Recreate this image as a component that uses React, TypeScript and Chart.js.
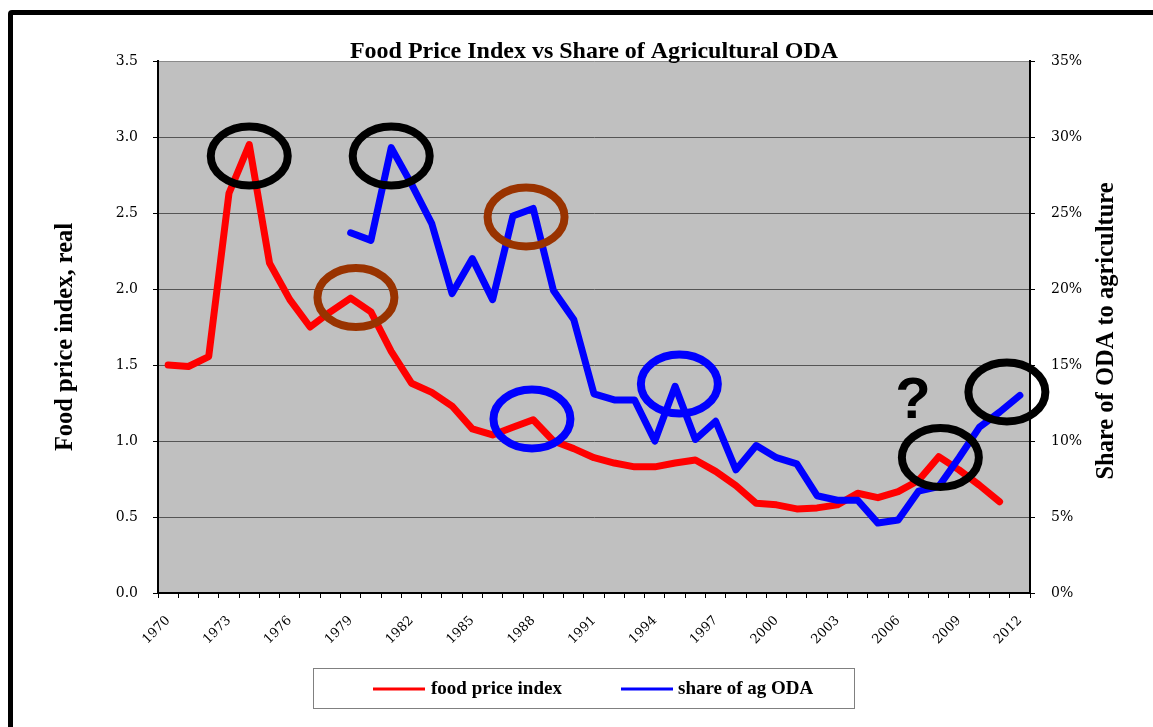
import React, { useEffect, useRef } from "react";
import { Chart, registerables } from "chart.js";

Chart.register(...registerables);

const years = [
  "1970", "1971", "1972", "1973", "1974", "1975", "1976", "1977", "1978", "1979",
  "1980", "1981", "1982", "1983", "1984", "1985", "1986", "1987", "1988", "1989",
  "1990", "1991", "1992", "1993", "1994", "1995", "1996", "1997", "1998", "1999",
  "2000", "2001", "2002", "2003", "2004", "2005", "2006", "2007", "2008", "2009",
  "2010", "2011", "2012",
];

const foodPriceIndex = [
  1.5, 1.49, 1.555, 2.63, 2.95, 2.17, 1.93, 1.75, 1.85, 1.94,
  1.85, 1.59, 1.38, 1.32, 1.23, 1.08, 1.04, 1.09, 1.14, 1.0,
  0.95, 0.89, 0.855, 0.83, 0.83, 0.855, 0.875, 0.8, 0.706, 0.59,
  0.58, 0.553, 0.56, 0.58, 0.656, 0.627, 0.667, 0.74, 0.897, 0.81,
  0.71, 0.6, null,
];

const shareAgODA = [
  null, null, null, null, null, null, null, null, null, 23.7,
  23.2, 29.3, 26.9, 24.3, 19.7, 22.0, 19.3, 24.8, 25.3, 19.9,
  18.0, 13.1, 12.7, 12.7, 10.0, 13.6, 10.1, 11.3, 8.1, 9.7,
  8.9, 8.5, 6.4, 6.1, 6.1, 4.6, 4.8, 6.7, 7.0, 8.9,
  10.9, 11.9, 13.0,
];

const leftTicks = [0, 0.5, 1.0, 1.5, 2.0, 2.5, 3.0, 3.5];
const rightTicks = [0, 5, 10, 15, 20, 25, 30, 35];

const titleText = "Food Price Index vs Share of Agricultural ODA";
const leftAxisTitle = "Food price index, real";
const rightAxisTitle = "Share of ODA to agriculture";
const seriesNames = ["food price index", "share of ag ODA"];

// annotation anchors in data units: [year, left-axis value, colour]
const circleYears = [1974.0, 1981.0, 1979.26, 1987.65, 1987.94, 1995.21, 2008.08, 2011.36];
const circleValues = [2.875, 2.875, 1.944, 2.474, 1.145, 1.375, 0.891, 1.322];
const circleColors = ["#000000", "#000000", "#993300", "#993300", "#0000ff", "#0000ff", "#000000", "#000000"];
const questionMark = { year: 2006.73, value: 1.151, text: "?" };

const RED = "#ff0000";
const BLUE = "#0000ff";
const SERIF = "'Liberation Serif', 'Times New Roman', serif";
const TICK_FONT = "'DejaVu Serif', serif";

const decorPlugin = {
  id: "decor",
  beforeDraw(chart: any) {
    const { ctx, chartArea } = chart;
    ctx.save();
    ctx.fillStyle = "#c0c0c0";
    ctx.fillRect(chartArea.left, chartArea.top, chartArea.right - chartArea.left, chartArea.bottom - chartArea.top);
    ctx.restore();
  },
  afterDatasetsDraw(chart: any) {
    const { ctx, scales } = chart;
    const x = scales.x;
    const y = scales.y;
    ctx.save();
    ctx.lineWidth = 8;
    for (let i = 0; i < circleYears.length; i++) {
      const cx = x.getPixelForValue(circleYears[i] - 1970);
      const cy = y.getPixelForValue(circleValues[i]);
      ctx.beginPath();
      ctx.ellipse(cx, cy, 38.5, 29.5, 0, 0, Math.PI * 2);
      ctx.strokeStyle = circleColors[i];
      ctx.stroke();
    }
    ctx.fillStyle = "#000";
    ctx.font = "bold 58px 'Liberation Sans', Arial, sans-serif";
    ctx.textAlign = "center";
    ctx.textBaseline = "alphabetic";
    ctx.fillText(
      questionMark.text,
      x.getPixelForValue(questionMark.year - 1970),
      y.getPixelForValue(questionMark.value)
    );
    ctx.restore();
  },
  afterDraw(chart: any) {
    const { ctx, chartArea } = chart;
    ctx.save();
    ctx.fillStyle = "#000";
    // title
    ctx.font = `bold 24px ${SERIF}`;
    ctx.textAlign = "center";
    ctx.textBaseline = "alphabetic";
    ctx.fillText(titleText, (chartArea.left + chartArea.right) / 2, 58);

    // axis titles
    ctx.font = `bold 24.5px ${SERIF}`;
    ctx.textBaseline = "middle";
    ctx.save();
    ctx.translate(66, 337);
    ctx.rotate(-Math.PI / 2);
    ctx.fillText(leftAxisTitle, 0, 0);
    ctx.restore();
    ctx.save();
    ctx.translate(1107, 331);
    ctx.rotate(-Math.PI / 2);
    ctx.fillText(rightAxisTitle, 0, 0);
    ctx.restore();

    // legend
    ctx.strokeStyle = "#808080";
    ctx.lineWidth = 1;
    ctx.strokeRect(313.5, 668.5, 541, 40);
    const ly = 689;
    ctx.lineWidth = 3;
    ctx.strokeStyle = RED;
    ctx.beginPath();
    ctx.moveTo(373, ly);
    ctx.lineTo(425, ly);
    ctx.stroke();
    ctx.strokeStyle = BLUE;
    ctx.beginPath();
    ctx.moveTo(621, ly);
    ctx.lineTo(673, ly);
    ctx.stroke();
    ctx.font = `bold 19px ${SERIF}`;
    ctx.textAlign = "left";
    ctx.textBaseline = "middle";
    ctx.fillText(seriesNames[0], 431, ly);
    ctx.fillText(seriesNames[1], 678, ly);
    ctx.restore();
  },
};

export default function App() {
  const canvasRef = useRef<HTMLCanvasElement | null>(null);

  useEffect(() => {
    const canvas = canvasRef.current;
    if (!canvas) return;
    const chart = new Chart(canvas, {
      type: "line",
      data: {
        labels: years,
        datasets: [
          {
            label: seriesNames[0],
            data: foodPriceIndex,
            yAxisID: "y",
            borderColor: RED,
            backgroundColor: RED,
            borderWidth: 7,
            pointRadius: 0,
            tension: 0,
            borderCapStyle: "round",
            borderJoinStyle: "round",
            order: 2,
          },
          {
            label: seriesNames[1],
            data: shareAgODA,
            yAxisID: "y1",
            borderColor: BLUE,
            backgroundColor: BLUE,
            borderWidth: 7,
            pointRadius: 0,
            tension: 0,
            borderCapStyle: "round",
            borderJoinStyle: "round",
            order: 1,
          },
        ],
      },
      options: {
        responsive: false,
        animation: false,
        events: [],
        layout: { padding: { top: 61, left: 0, right: 0, bottom: 0 } },
        plugins: {
          legend: { display: false },
          title: { display: false },
          tooltip: { enabled: false },
        },
        scales: {
          x: {
            type: "category",
            offset: true,
            grid: {
              offset: true,
              drawOnChartArea: false,
              drawTicks: true,
              tickLength: 5,
              color: "#000",
              tickColor: "#000",
            },
            border: { display: true, color: "#000", width: 2 },
            ticks: {
              autoSkip: false,
              maxRotation: 45,
              minRotation: 45,
              padding: 15,
              color: "#000",
              font: { family: TICK_FONT, size: 13 },
              callback: (_v: any, i: number) => (i % 3 === 0 ? years[i] : ""),
            },
            afterFit: (s: any) => {
              s.height = 134;
            },
          },
          y: {
            position: "left",
            min: leftTicks[0],
            max: leftTicks[leftTicks.length - 1],
            afterBuildTicks: (s: any) => {
              s.ticks = leftTicks.map((v) => ({ value: v }));
            },
            grid: {
              color: (c: any) => (c.tick && c.tick.value === 3.5 ? "#8a8a8a" : "#555555"),
              lineWidth: 1,
              tickLength: 5,
              tickColor: "#000",
            },
            border: { display: true, color: "#000", width: 2 },
            ticks: {
              padding: 15,
              color: "#000",
              font: { family: TICK_FONT, size: 14 },
              callback: (v: any) => Number(v).toFixed(1),
            },
            afterFit: (s: any) => {
              s.width = 158;
            },
          },
          y1: {
            position: "right",
            min: rightTicks[0],
            max: rightTicks[rightTicks.length - 1],
            afterBuildTicks: (s: any) => {
              s.ticks = rightTicks.map((v) => ({ value: v }));
            },
            grid: {
              drawOnChartArea: false,
              tickLength: 5,
              color: "#000",
              tickColor: "#000",
            },
            border: { display: true, color: "#000", width: 2 },
            ticks: {
              padding: 16,
              color: "#000",
              font: { family: TICK_FONT, size: 14 },
              callback: (v: any) => `${v}%`,
            },
            afterFit: (s: any) => {
              s.width = 123;
            },
          },
        },
      },
      plugins: [decorPlugin],
    });
    return () => chart.destroy();
  }, []);

  return (
    <div
      style={{
        position: "fixed",
        left: 0,
        top: 0,
        width: 1153,
        height: 727,
        background: "#fff",
        overflow: "hidden",
      }}
    >
      <div
        style={{
          position: "absolute",
          left: 8,
          top: 10,
          width: 1200,
          height: 800,
          border: "5px solid #000",
          borderRadius: 4,
          boxSizing: "border-box",
        }}
      />
      <canvas
        ref={canvasRef}
        width={1153}
        height={727}
        style={{ position: "absolute", left: 0, top: 0, width: 1153, height: 727 }}
      />
    </div>
  );
}
